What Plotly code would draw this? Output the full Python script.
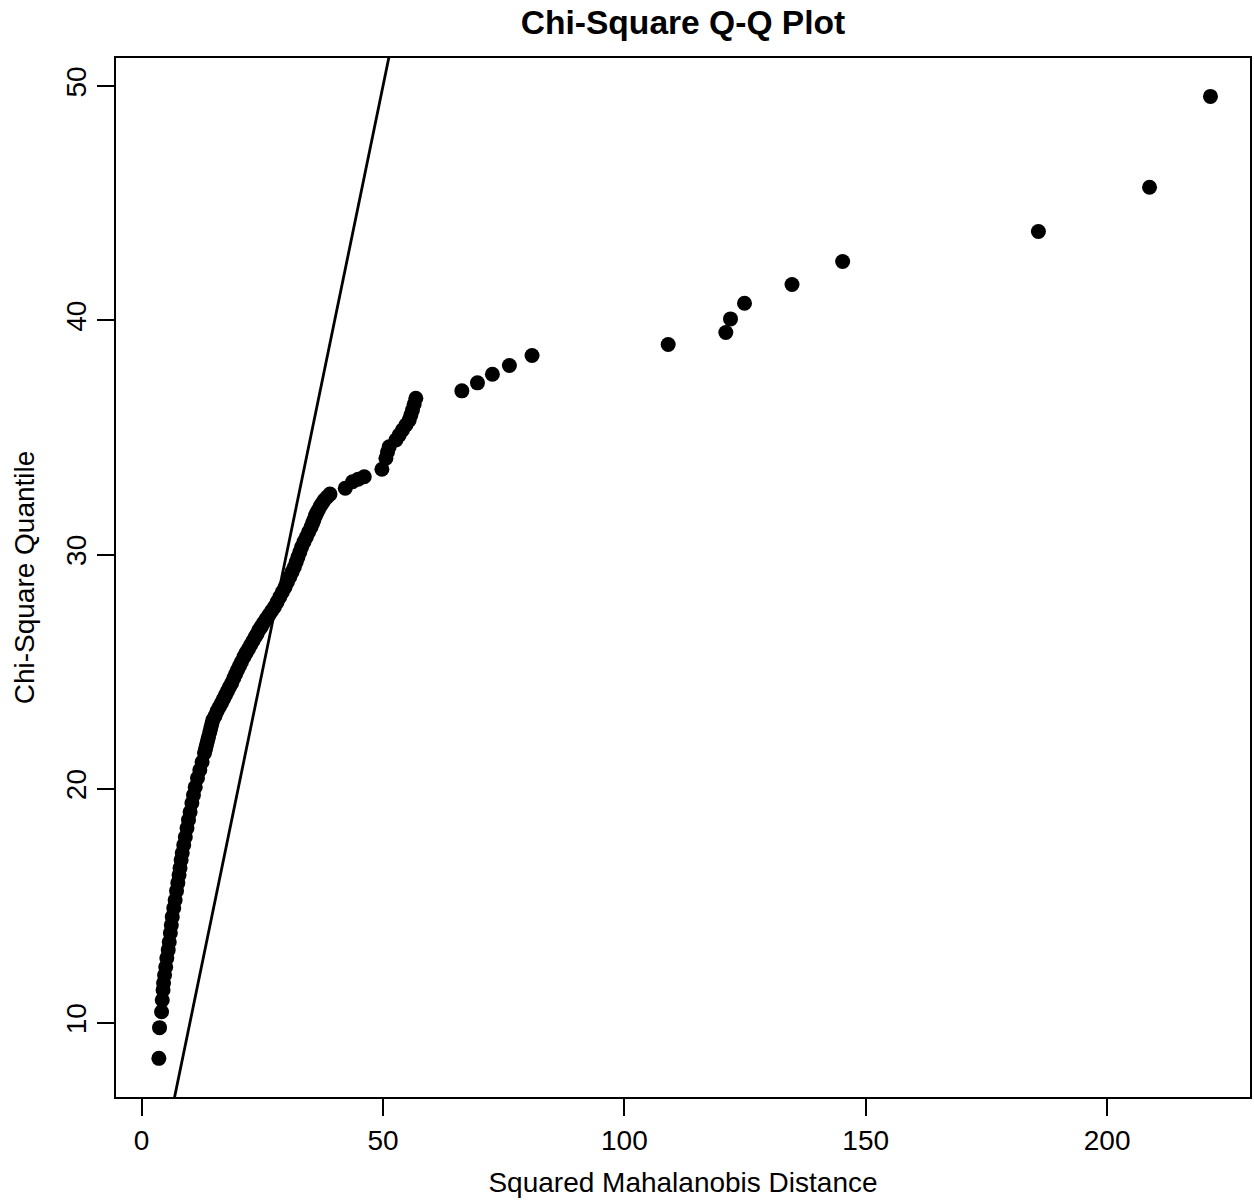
import plotly.graph_objects as go

# Squared Mahalanobis distances (sorted) and matching chi-square quantiles
mahal_d2 = [
    3.58, 3.72, 4.14, 4.28, 4.45, 4.55, 4.76, 5.00, 5.23, 5.52,
    5.73, 5.96, 6.16, 6.35, 6.66, 6.95, 7.24, 7.51, 7.76, 7.96,
    8.19, 8.42, 8.73, 9.06, 9.41, 9.72, 10.05, 10.42, 10.75, 11.11,
    11.58, 12.06, 12.53, 13.03, 13.24, 13.44, 13.65, 13.86, 14.13, 14.33,
    14.54, 14.75, 15.20, 15.64, 16.09, 16.55, 16.96, 17.37, 17.79, 18.20,
    18.66, 19.11, 19.48, 19.86, 20.27, 20.68, 21.20, 21.65, 22.13, 22.58,
    23.06, 23.52, 23.91, 24.30, 24.76, 25.23, 25.79, 26.37, 26.93, 27.51,
    28.07, 28.62, 29.16, 29.72, 30.20, 30.69, 31.17, 31.64, 32.02, 32.39,
    32.78, 33.15, 33.63, 34.13, 34.60, 35.10, 35.43, 35.68, 35.99, 36.26,
    36.61, 37.02, 37.44, 37.85, 38.43, 39.03, 42.19, 43.70, 44.88, 46.12,
    49.78, 50.61, 50.94, 51.29, 52.68, 53.36, 54.04, 54.75, 55.43, 55.78,
    56.11, 56.46, 56.81,
    66.34, 69.57, 72.67, 76.19, 80.88, 109.08, 121.02, 121.99, 124.89, 134.73,
    145.22, 185.77, 208.79, 221.41,
]
chisq_q = [
    8.49, 9.80, 10.48, 10.98, 11.41, 11.71, 12.05, 12.39, 12.77, 13.12,
    13.46, 13.84, 14.18, 14.53, 14.91, 15.25, 15.64, 15.98, 16.32, 16.62,
    16.96, 17.26, 17.60, 17.94, 18.32, 18.67, 19.01, 19.39, 19.73, 20.07,
    20.46, 20.80, 21.14, 21.53, 21.70, 21.87, 22.04, 22.21, 22.42, 22.59,
    22.76, 22.93, 23.10, 23.32, 23.49, 23.66, 23.83, 24.00, 24.17, 24.34,
    24.51, 24.73, 24.90, 25.07, 25.24, 25.41, 25.63, 25.80, 25.97, 26.14,
    26.31, 26.48, 26.61, 26.78, 26.91, 27.08, 27.25, 27.42, 27.59, 27.76,
    27.97, 28.19, 28.40, 28.61, 28.83, 29.04, 29.26, 29.47, 29.68, 29.89,
    30.11, 30.32, 30.54, 30.75, 30.96, 31.17, 31.35, 31.47, 31.65, 31.77,
    31.90, 32.07, 32.20, 32.33, 32.46, 32.58, 32.83, 33.11, 33.22, 33.32,
    33.64, 34.11, 34.38, 34.60, 34.89, 35.10, 35.32, 35.53, 35.74, 35.96,
    36.17, 36.42, 36.67,
    36.99, 37.33, 37.70, 38.07, 38.50, 38.97, 39.48, 40.06, 40.73, 41.53,
    42.51, 43.79, 45.68, 49.56,
]

x_ticks = [0, 50, 100, 150, 200]
y_ticks = [10, 20, 30, 40, 50]
x_range = [-5.3, 229.6]
y_range = [6.84, 51.2]

# reference line y = intercept + slope * x
line_intercept = 0.0
line_slope = 1.0
line_x = [x_range[0] - 20, x_range[1] + 20]
line_y = [line_intercept + line_slope * v for v in line_x]

FONT = "Liberation Sans, Arial, Helvetica, sans-serif"

fig = go.Figure()
fig.add_trace(go.Scatter(
    x=mahal_d2, y=chisq_q, mode="markers",
    marker=dict(size=15, color="black", line=dict(width=0)),
    showlegend=False, hoverinfo="x+y",
))
fig.add_trace(go.Scatter(
    x=line_x, y=line_y, mode="lines",
    line=dict(color="black", width=2.8),
    showlegend=False, hoverinfo="skip",
))

fig.update_layout(
    width=1254, height=1201,
    margin=dict(l=116, r=2, t=58, b=104),
    paper_bgcolor="white", plot_bgcolor="white",
    font=dict(family=FONT, size=28, color="black"),
    title=dict(
        text="<b>Chi-Square Q-Q Plot</b>",
        x=0.5, xref="paper", xanchor="center",
        y=1 - 22 / 1201, yref="container", yanchor="middle",
        font=dict(family=FONT, size=33.6, color="black"),
    ),
    xaxis=dict(
        range=x_range, tickvals=x_ticks, ticktext=[str(v) for v in x_ticks],
        showgrid=False, zeroline=False,
        showline=True, linecolor="black", linewidth=2, mirror=True,
        ticks="outside", ticklen=17, tickwidth=2, tickcolor="black",
        tickfont=dict(family=FONT, size=28, color="black"),
        title=dict(text="Squared Mahalanobis Distance", standoff=18,
                   font=dict(family=FONT, size=28, color="black")),
    ),
    yaxis=dict(
        range=y_range, tickvals=y_ticks, ticktext=[str(v) for v in y_ticks],
        showgrid=False, zeroline=False,
        showline=True, linecolor="black", linewidth=2, mirror=True,
        ticks="outside", ticklen=17, tickwidth=2, tickcolor="black",
        tickangle=-90,
        tickfont=dict(family=FONT, size=28, color="black"),
        title=dict(text="Chi-Square Quantile", standoff=18,
                   font=dict(family=FONT, size=28, color="black")),
    ),
)

fig.write_html(
    "out.html",
    config={"displayModeBar": False},
    post_script="document.body.style.margin='0';document.body.style.overflow='hidden';",
)
